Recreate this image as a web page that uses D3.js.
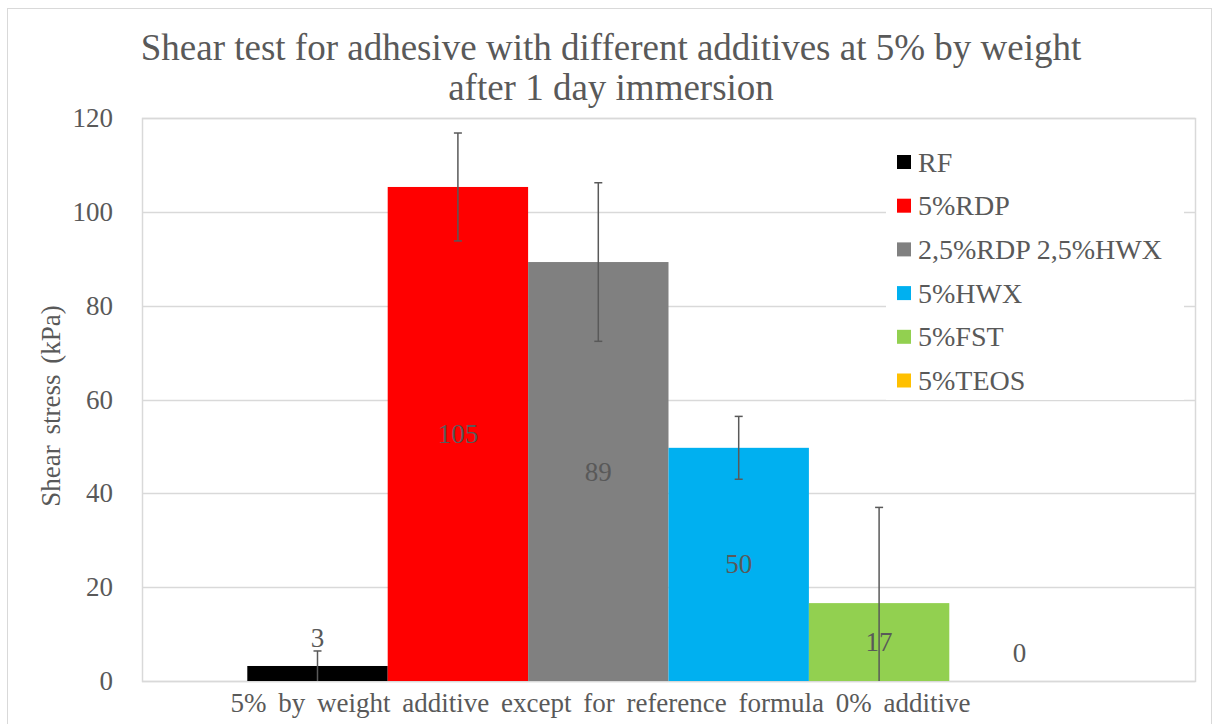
<!DOCTYPE html>
<html>
<head>
<meta charset="utf-8">
<script src="https://cdn.jsdelivr.net/npm/d3@7"></script>
<style>
    body { margin: 0; background: #fff; }
    svg text { font-family: 'Liberation Serif', 'Times New Roman', Times, serif !important; fill: #595959; }
</style>
</head>
<body>
<svg id="chart" width="1215" height="724"></svg>
<script>
var categories = ['5% by weight additive except for reference formula 0% additive'];
var seriesNames = ['RF', '5%RDP', '2,5%RDP 2,5%HWX', '5%HWX', '5%FST', '5%TEOS'];
var seriesColors = ['#000000', '#ff0000', '#808080', '#00b0f0', '#92d050', '#ffc000'];
var shearValues = [3.2, 105.3, 89.3, 49.7, 16.6, 0];
var shearErrors = [3.2, 11.5, 16.9, 6.7, 20.4, 0];
var yTicks = [0, 20, 40, 60, 80, 100, 120];

var plot = { left: 142, right: 1195, top: 118, bottom: 681 };
var serif = "'Liberation Serif', 'Times New Roman', Times, serif";

var svg = d3.select('#chart');

// outer chart frame
svg.append('rect')
    .attr('x', 7.5).attr('y', 8.5)
    .attr('width', 1204).attr('height', 730)
    .attr('fill', '#fff')
    .attr('stroke', '#d9d9d9')
;

var y = d3.scaleLinear()
    .domain([0, 120])
    .range([plot.bottom, plot.top])
;

var x0 = d3.scaleBand()
    .domain(categories)
    .range([plot.left, plot.right])
    .paddingInner(0)
    .paddingOuter(0.125)
;

var x1 = d3.scaleBand()
    .domain(seriesNames)
    .range([0, x0.bandwidth()])
;

// gridlines
svg.append('g')
    .attr('class', 'grid')
    .selectAll('line')
    .data(yTicks)
    .enter().append('line')
    .attr('x1', plot.left).attr('x2', plot.right)
    .attr('y1', d => Math.round(y(d)) + 0.5)
    .attr('y2', d => Math.round(y(d)) + 0.5)
    .attr('stroke', '#d9d9d9')
    .attr('stroke-width', 1.5)
;

// plot area border
svg.append('rect')
    .attr('x', plot.left + 0.5).attr('y', plot.top + 0.5)
    .attr('width', plot.right - plot.left).attr('height', plot.bottom - plot.top)
    .attr('fill', 'none')
    .attr('stroke', '#d9d9d9')
    .attr('stroke-width', 1.5)
;

// y axis labels
var yAxis = d3.axisLeft(y)
    .tickValues(yTicks)
    .tickSize(0)
    .tickPadding(29)
;
var yAxisG = svg.append('g')
    .attr('transform', `translate(${ plot.left }, 0)`)
    .call(yAxis)
    .attr('font-family', serif)
;
yAxisG.select('.domain').remove();
yAxisG.selectAll('text')
    .attr('font-size', 27)
    .attr('fill', '#595959')
;

// x axis label
var xAxis = d3.axisBottom(x0).tickSize(0).tickPadding(12);
var xAxisG = svg.append('g')
    .attr('transform', `translate(-68, ${ plot.bottom })`)
    .call(xAxis)
    .attr('font-family', serif)
;
xAxisG.select('.domain').remove();
xAxisG.selectAll('text')
    .attr('font-size', 27)
    .attr('word-spacing', 5)
    .attr('fill', '#595959')
;

// legend background (covers gridlines)
svg.append('rect')
    .attr('x', 886).attr('y', 138)
    .attr('width', 298).attr('height', 262)
    .attr('fill', '#fff')
;

// bars
var rows = seriesNames.map((name, i) => ({
    name: name,
    color: seriesColors[i],
    value: shearValues[i],
    error: shearErrors[i]
}));

var bars = svg.append('g')
    .selectAll('.bar')
    .data(rows)
    .enter().append('g')
    .attr('class', 'bar')
    .attr('transform', `translate(${ x0(categories[0]) }, 0)`)
;

bars.append('rect')
    .attr('x', d => x1(d.name))
    .attr('y', d => y(d.value))
    .attr('width', x1.bandwidth())
    .attr('height', d => y(0) - y(d.value))
    .attr('fill', d => d.color)
;

// error bars
var capW = 4;
bars.filter(d => d.error > 0).each(function (d) {
    var g = d3.select(this);
    var cx = x1(d.name) + x1.bandwidth() / 2;
    var hi = y(d.value + d.error);
    var lo = Math.min(y(d.value - d.error), plot.bottom);

    g.append('line')
        .attr('x1', cx).attr('x2', cx)
        .attr('y1', hi).attr('y2', lo)
        .attr('stroke', '#595959').attr('stroke-width', 1.5)
    ;
    g.append('line')
        .attr('x1', cx - capW).attr('x2', cx + capW)
        .attr('y1', hi).attr('y2', hi)
        .attr('stroke', '#595959').attr('stroke-width', 1.5)
    ;
    if (y(d.value - d.error) < plot.bottom) {
        g.append('line')
            .attr('x1', cx - capW).attr('x2', cx + capW)
            .attr('y1', lo).attr('y2', lo)
            .attr('stroke', '#595959').attr('stroke-width', 1.5)
        ;
    }
});

// data labels
bars.append('text')
    .attr('x', d => x1(d.name) + x1.bandwidth() / 2)
    .attr('y', d => {
        var h = y(0) - y(d.value);
        return h > 30 ? (y(d.value) + y(0)) / 2 : y(d.value) - 28;
    })
    .attr('text-anchor', 'middle')
    .attr('dominant-baseline', 'central')
    .attr('font-size', 27)
    .text(d => Math.round(d.value))
;

// legend
var legend = svg.append('g')
    .selectAll('.legend-item')
    .data(rows)
    .enter().append('g')
    .attr('class', 'legend-item')
    .attr('transform', (d, i) => `translate(897, ${ 162 + i * 43.7 })`)
;
legend.append('rect')
    .attr('x', 0).attr('y', -7)
    .attr('width', 14).attr('height', 14)
    .attr('fill', d => d.color)
;
legend.append('text')
    .attr('x', 21)
    .attr('y', 0)
    .attr('dominant-baseline', 'central')
    .attr('font-size', 28)
    .text(d => d.name)
;

// axis title
svg.append('text')
    .attr('transform', 'translate(51, 406) rotate(-90)')
    .attr('text-anchor', 'middle')
    .attr('dominant-baseline', 'central')
    .attr('font-size', 27)
    .attr('word-spacing', 4)
    .text('Shear stress (kPa)')
;

// chart title
var title = svg.append('text')
    .attr('text-anchor', 'middle')
    .attr('font-size', 37)
;
title.append('tspan').attr('x', 611).attr('y', 60)
    .text('Shear test for adhesive with different additives at 5% by weight');
title.append('tspan').attr('x', 611).attr('y', 100)
    .text('after 1 day immersion');
</script>
</body>
</html>
